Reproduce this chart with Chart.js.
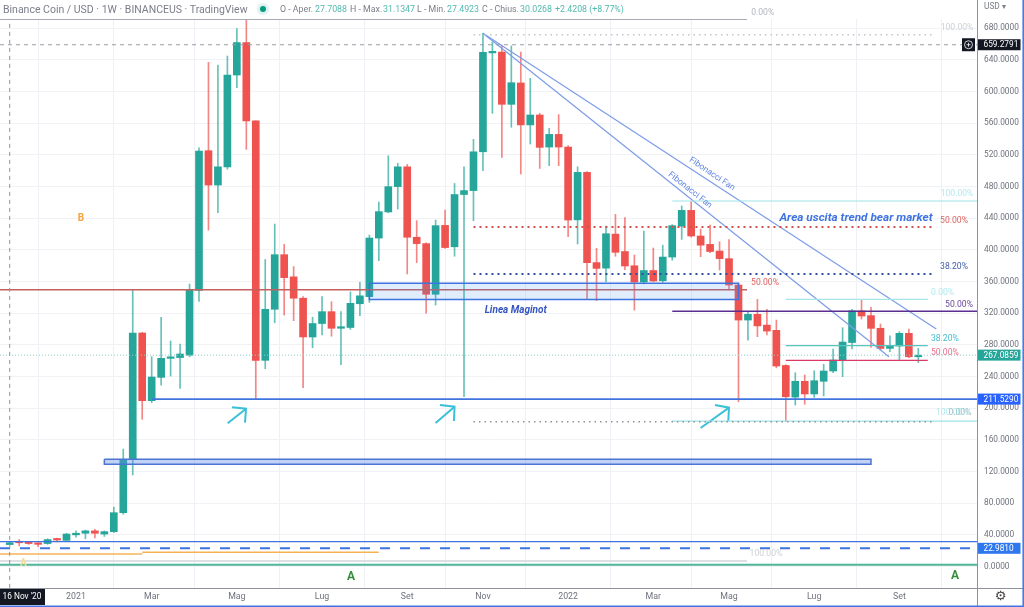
<!DOCTYPE html>
<html>
<head>
<meta charset="utf-8">
<title>Binance Coin / USD</title>
<script src="https://cdn.jsdelivr.net/npm/chart.js@4"></script>
<style>
  html, body { margin: 0; padding: 0; background: #fff; overflow: hidden; }
  #wrap { position: relative; width: 1024px; height: 607px; }
  canvas { position: absolute; left: 0; top: 0; }
  .hd { position: absolute; top: 4px; font: 8.8px Roboto, sans-serif; color: #7b7e89; white-space: nowrap; }
  .val { color: #53b9ae; }
  #title { font-size: 10.5px; left: 3px; top: 3px; }
  #dot { position: absolute; left: 260px; top: 6px; width: 6px; height: 6px; border-radius: 50%;
         background: #089981; box-shadow: 0 0 0 3px #dff2ef; }
</style>
</head>
<body>
<div id="wrap">
  <canvas id="myChart" width="1024" height="607"></canvas>
  <div class="hd" id="title">Binance Coin / USD · 1W · BINANCEUS · TradingView</div>
  <div id="dot"></div>
  <div class="hd" style="left:280px">O - Aper.</div>
  <div class="hd val" style="left:315px">27.7088</div>
  <div class="hd" style="left:350px">H - Max.</div>
  <div class="hd val" style="left:383px">31.1347</div>
  <div class="hd" style="left:417px">L - Min.</div>
  <div class="hd val" style="left:447px">27.4923</div>
  <div class="hd" style="left:482px">C - Chius.</div>
  <div class="hd val" style="left:520px">30.0268</div>
  <div class="hd val" style="left:555px">+2.4208 (+8.77%)</div>
</div>
<script>
// weekly candles, week 0 is the one under the crosshair (16 Nov '20)
const opens = [27.7, 31, 30, 29, 29, 34, 33, 40, 42, 45, 41, 44, 68, 135, 295, 209.5, 239, 263, 264, 267, 349, 525.4, 482, 505, 621, 662, 563, 260.5, 325, 394, 366, 339, 290, 307, 322, 301, 302, 332, 341, 415, 448, 480, 505, 416, 408, 344, 431, 404, 470, 475, 524, 649, 650, 584, 611, 558, 570.5, 530, 546, 530, 438, 498, 384, 377, 420, 398, 380, 359.5, 374, 361, 391, 430, 450, 417.6, 407, 398.6, 389, 355.7, 311.4, 318.6, 305, 298.4, 254, 214, 234, 218, 234, 247, 260, 283, 323, 317, 301, 275.6, 278.6, 294.6, 265];
const highs = [31.13, 34, 31, 30, 35, 36, 42, 45, 46, 47, 45, 75, 148.4, 349, 296, 265, 314.8, 285, 281, 357, 529, 637, 633.7, 645, 679.6, 691, 563, 388, 432.7, 407, 379, 341, 315, 341, 334.6, 322, 347, 359, 418.8, 460.6, 519, 509.4, 508, 437, 409, 437.8, 450.4, 484, 505, 539.7, 673.7, 663, 659, 657.7, 650, 616.8, 572.6, 553.6, 571, 532, 505, 499, 402, 430, 445, 441, 393.6, 423.9, 402.4, 406, 432, 455.5, 461, 426.4, 431.5, 410.4, 413, 358, 322, 337.5, 325, 311.4, 255, 244.9, 242, 247.4, 255.4, 274.8, 301.7, 325, 336.7, 327.4, 306.4, 291.6, 296.7, 300, 275.6];
const lows = [27.49, 26, 28, 25, 28, 31, 33, 37, 35, 36, 38, 43, 66, 115.6, 186, 207, 229, 240.7, 225, 265, 335, 425, 447, 502, 605, 527, 212.4, 250, 308, 317.7, 310.6, 226, 276.5, 292.5, 291, 255, 299.6, 317, 333.7, 386.4, 447, 451.7, 369.6, 383.9, 320, 330.4, 402, 392, 214.5, 437, 500, 572.6, 517, 555, 496, 533.8, 503, 506.5, 506.5, 416.7, 407.5, 337.5, 336, 360, 392, 375, 324, 357, 360, 359, 387, 413.3, 416, 391.5, 396.5, 374.6, 351, 208.2, 286, 290.4, 292.5, 251, 183, 204, 205, 213.7, 215.4, 245, 239.8, 274.8, 312.7, 276.9, 274, 271.4, 260, 264, 257.5];
const closes = [30.03, 30, 29, 28, 34, 33.5, 41, 42, 45, 42, 44, 68, 135, 295, 209.5, 239.4, 263, 264, 268.5, 349, 525, 482, 505, 621, 662, 563, 260.5, 325, 394, 365, 339, 290, 307, 322, 301, 303, 332.5, 342, 415, 448.4, 480, 505, 416, 408, 344, 430.7, 403, 470, 475, 524, 649.7, 650, 584, 611.3, 558, 570.5, 529.6, 546, 530, 437.8, 498, 383.9, 376.7, 420.5, 397, 379.7, 359.5, 374, 360.7, 391, 430.7, 450, 417.6, 406, 398, 389, 355.7, 311.4, 318.6, 304, 297.5, 253.3, 214.5, 234, 218, 234.8, 247, 260.9, 283.6, 323, 316.5, 300.9, 275.6, 278.6, 294.6, 265, 267.09];

const yTicks = [0, 40, 80, 120, 160, 200, 240, 280, 320, 360, 400, 440, 480, 520, 560, 600, 640, 680];
const monthWeeks = [7, 15, 24, 33, 42, 50, 59, 68, 76, 85, 94];
const monthLabels = ["2021", "Mar", "Mag", "Lug", "Set", "Nov", "2022", "Mar", "Mag", "Lug", "Set"];

const weeks = opens.map((_, i) => i);
const GREEN = "#26a69a";
const RED = "#ef5350";
const BLUE = "#3f74e0";
const candleColors = closes.map((c, i) => (c >= opens[i] ? GREEN : RED));
const wickColors = closes.map((c, i) => (c >= opens[i] ? "rgba(38,166,154,0.7)" : "rgba(239,83,80,0.7)"));

const lineDatasets = [];

function addLine(points, color, width, dash) {
  lineDatasets.push({
    type: "line",
    data: points.map(([x, y]) => ({ x, y })),
    borderColor: color,
    borderWidth: width,
    borderDash: dash || [],
    pointRadius: 0,
    tension: 0,
    fill: false,
    order: 1,
  });
}

function addLevel(x0, x1, value, color, width, dash) {
  addLine([[x0, value], [x1, value]], color, width, dash);
}

function addBox(x0, x1, top, bottom, color, fillColor) {
  addLine([[x0, top], [x1, top], [x1, bottom], [x0, bottom], [x0, top]], color, 1.5);
  const box = lineDatasets[lineDatasets.length - 1];
  box.fill = "shape";
  box.backgroundColor = fillColor;
}

const X_MIN = -1.025;
const X_MAX = 102.2;

// crosshair + price levels
addLevel(X_MIN, X_MAX, 659.28, "#9b9ea6", 1, [4, 4]);
addLine([[0, -27], [0, 691]], "#8f929b", 1, [4, 4]);
addLevel(X_MIN, X_MAX, 267, "#8fd0c8", 1, [1, 2]);
addLevel(X_MIN, 77.9, 691.4, "#a9abb2", 1.5);
addLevel(49, 97.8, 672, "#c2c4ca", 1.5, [1.5, 4]);
addLevel(70, X_MAX, 461.8, "#9fe3ea", 1.2);
addLevel(49, 97.8, 428.9, "#d2504e", 2, [2, 4]);
addLevel(49, 97.8, 369.6, "#2f4f9e", 2, [2, 4]);
addLevel(49, 97.8, 183, "#8f9298", 1.5, [1.5, 4]);
addLevel(70, X_MAX, 183.8, "#9fe3ea", 1.2);

// the two boxes
addBox(38, 77, 357.8, 337.5, BLUE, "rgba(66,150,243,0.17)");
addBox(10, 91, 135.6, 129.2, "#4d74d4", "rgba(90,140,235,0.38)");

addLevel(X_MIN, 77.9, 349.7, "#c4605f", 1.5);
addLevel(15, X_MAX, 211.53, BLUE, 1.8);
addLevel(70, X_MAX, 322.4, "#5b2e91", 1.5);
addLevel(82, 97, 337.6, "#a5e6ec", 1.2);
addLevel(82, 97, 279, "#57c5bd", 1.2);
addLevel(82, 97, 260.5, "#d93a66", 1.2);

// bottom bands
addLevel(X_MIN, X_MAX, 31.4, BLUE, 1.2);
addLevel(X_MIN, X_MAX, 22.98, BLUE, 2, [10, 10]);
addLevel(X_MIN, 14, 15.9, "#f5b355", 1.5);
addLevel(14, 39, 18, "#f5b355", 1.5);
addLevel(X_MIN, 77.9, 7, "#d5d6da", 1.5);
addLevel(X_MIN, X_MAX, 2.3, "#4fb596", 2);

// fibonacci fan
addLine([[50, 673.7], [97.9, 300]], "#7d9ce6", 1.2);
addLine([[50, 673.7], [92.9, 265.1]], "#7d9ce6", 1.2);

// arrows
const ARROW = "#3cc0d8";
addLine([[23.03, 180.9], [24.97, 199.4]], ARROW, 2);
addLine([[23.49, 201.2], [24.97, 199.4], [24.86, 181.7]], ARROW, 2);
addLine([[45, 181.3], [47, 201.9]], ARROW, 2);
addLine([[45.46, 204.1], [47, 201.9], [46.94, 183.9]], ARROW, 2);
addLine([[73, 175], [76, 200.7]], ARROW, 2);
addLine([[74.52, 204.1], [76, 200.7], [75.92, 183.9]], ARROW, 2);

// text on the chart: [text, week, price, colour, font, rotation]
const FIB_FONT = "8.6px Roboto, sans-serif";
const chartTexts = [
  ["0.00%", 79.56, 700, "#b4b6bd", FIB_FONT],
  ["100.00%", 100.09, 680.4, "#cfd1d6", FIB_FONT],
  ["100.00%", 100.09, 470.7, "#b4e9ee", FIB_FONT],
  ["Area uscita trend bear market", 89.41, 440.3, "#3f74e0", "italic bold 11.8px Roboto, sans-serif"],
  ["50.00%", 99.77, 436.5, "#e0625f", FIB_FONT],
  ["38.20%", 99.77, 378.4, "#3f5fa8", FIB_FONT],
  ["50.00%", 79.8, 358.2, "#e0625f", FIB_FONT],
  ["0.00%", 98.57, 346.2, "#b4e9ee", FIB_FONT],
  ["50.00%", 100.3, 330.8, "#6b4a9c", FIB_FONT],
  ["38.20%", 98.8, 287.5, "#45bfcf", FIB_FONT],
  ["50.00%", 98.8, 269.8, "#e8708c", FIB_FONT],
  ["100.00%", 99.6, 194, "#b4e9ee", FIB_FONT],
  ["0.00%", 100.4, 194, "#9fc4c8", FIB_FONT],
  ["100.00%", 79.9, 15.8, "#cfd1d6", FIB_FONT],
  ["Linea Maginot", 53.46, 323.2, "#3556c0", "italic bold 10px Roboto, sans-serif"],
  ["B", 7.53, 440.3, "#f7a23b", "bold 10px Roboto, sans-serif"],
  ["A", 36.06, -13.3, "#388e3c", "bold 12px Roboto, sans-serif"],
  ["A", 99.87, -12.6, "#388e3c", "bold 12px Roboto, sans-serif"],
  ["A", 1.44, 4.4, "#f3dc9a", "bold 10px Roboto, sans-serif"],
  ["Fibonacci Fan", 74.2, 495.9, "#5f86e2", FIB_FONT, 34],
  ["Fibonacci Fan", 71.88, 475.7, "#5f86e2", FIB_FONT, 38.5],
];

// coloured tags on the price axis: [price, text, background]
const priceTags = [
  [659.2791, "659.2791", "#131722"],
  [267.0859, "267.0859", GREEN],
  [211.529, "211.5290", "#2962ff"],
  [22.981, "22.9810", "#2f77ee"],
];

const overlayPlugin = {
  id: "overlay",
  afterDraw(chart) {
    const { ctx, scales } = chart;
    const area = chart.chartArea;
    ctx.save();

    ctx.textAlign = "center";
    ctx.textBaseline = "middle";
    chartTexts.forEach(([text, wk, price, color, font, rot]) => {
      ctx.save();
      ctx.translate(scales.x.getPixelForValue(wk), scales.y.getPixelForValue(price));
      if (rot) ctx.rotate((rot * Math.PI) / 180);
      ctx.fillStyle = color;
      ctx.font = font;
      ctx.fillText(text, 0, 0);
      ctx.restore();
    });

    // frame of the price and time axes
    ctx.strokeStyle = "#8f929b";
    ctx.lineWidth = 1;
    ctx.beginPath();
    ctx.moveTo(area.right + 0.5, 0);
    ctx.lineTo(area.right + 0.5, 607);
    ctx.moveTo(0, area.bottom + 0.5);
    ctx.lineTo(1024, area.bottom + 0.5);
    ctx.stroke();
    ctx.strokeStyle = "#3f74e0";
    ctx.lineWidth = 1.5;
    ctx.beginPath();
    ctx.moveTo(0, 606.2);
    ctx.lineTo(1023.2, 606.2);
    ctx.lineTo(1023.2, 0);
    ctx.stroke();

    ctx.font = "8.3px Roboto, sans-serif";
    ctx.textAlign = "left";
    priceTags.forEach(([price, text, bg]) => {
      const y = scales.y.getPixelForValue(price);
      ctx.fillStyle = bg;
      ctx.fillRect(area.right + 1, y - 5.5, 42.5, 11);
      ctx.fillStyle = "#fff";
      ctx.fillText(text, area.right + 6.5, y + 0.5);
    });

    // plus button next to the crosshair price
    const py = scales.y.getPixelForValue(659.2791);
    ctx.fillStyle = "#131722";
    ctx.fillRect(area.right - 15, py - 6.5, 13, 13);
    ctx.strokeStyle = "#fff";
    ctx.lineWidth = 0.8;
    ctx.beginPath();
    ctx.arc(area.right - 8.5, py, 4, 0, Math.PI * 2);
    ctx.moveTo(area.right - 10.5, py);
    ctx.lineTo(area.right - 6.5, py);
    ctx.moveTo(area.right - 8.5, py - 2);
    ctx.lineTo(area.right - 8.5, py + 2);
    ctx.stroke();

    // crosshair date
    ctx.fillStyle = "#131722";
    ctx.fillRect(0, area.bottom + 1, 45, 16);
    ctx.fillStyle = "#fff";
    ctx.textAlign = "center";
    ctx.fillText("16 Nov '20", 22, area.bottom + 9);

    ctx.fillStyle = "#7b7e89";
    ctx.textAlign = "left";
    ctx.fillText("USD ▾", area.right + 7, 7);
    ctx.fillStyle = "#444";
    ctx.font = "13px 'DejaVu Sans', sans-serif";
    ctx.textAlign = "center";
    ctx.fillText("⚙", 1000.5, 597);
    ctx.restore();
  },
};

const ctx = document.getElementById("myChart").getContext("2d");
new Chart(ctx, {
  type: "bar",
  data: {
    datasets: [
      ...lineDatasets,
      {
        label: "body",
        data: weeks.map((i) => ({ x: i, y: [opens[i], closes[i]] })),
        backgroundColor: candleColors,
        barThickness: 7,
        minBarLength: 1.5,
        grouped: false,
        order: 10,
      },
      {
        label: "wick",
        data: weeks.map((i) => ({ x: i, y: [lows[i], highs[i]] })),
        backgroundColor: wickColors,
        barThickness: 1,
        grouped: false,
        order: 20,
      },
    ],
  },
  options: {
    responsive: false,
    animation: false,
    devicePixelRatio: 1,
    layout: { padding: { top: 19 } },
    plugins: { legend: { display: false }, tooltip: { enabled: false } },
    scales: {
      x: {
        type: "linear",
        min: X_MIN,
        max: X_MAX,
        offset: false,
        afterBuildTicks: (scale) => {
          scale.ticks = monthWeeks.map((value) => ({ value }));
        },
        afterFit: (scale) => {
          scale.height = 19;
        },
        grid: { color: "#eef0f5", drawTicks: false },
        border: { display: false },
        ticks: {
          autoSkip: false,
          maxRotation: 0,
          padding: 4,
          color: "#6f727d",
          font: { family: "Roboto", size: 8.8 },
          callback: (value) => monthLabels[monthWeeks.indexOf(value)],
        },
      },
      y: {
        position: "right",
        min: -27.17,
        max: 691.8,
        afterBuildTicks: (scale) => {
          scale.ticks = yTicks.map((value) => ({ value }));
        },
        afterFit: (scale) => {
          scale.width = 47;
        },
        grid: { color: "#f0f2f6", drawTicks: false },
        border: { display: false },
        ticks: {
          padding: 7,
          color: "#6f727d",
          font: { family: "Roboto", size: 8.3 },
          callback: (value) => value.toFixed(4),
        },
      },
    },
  },
  plugins: [overlayPlugin],
});
</script>
</body>
</html>
